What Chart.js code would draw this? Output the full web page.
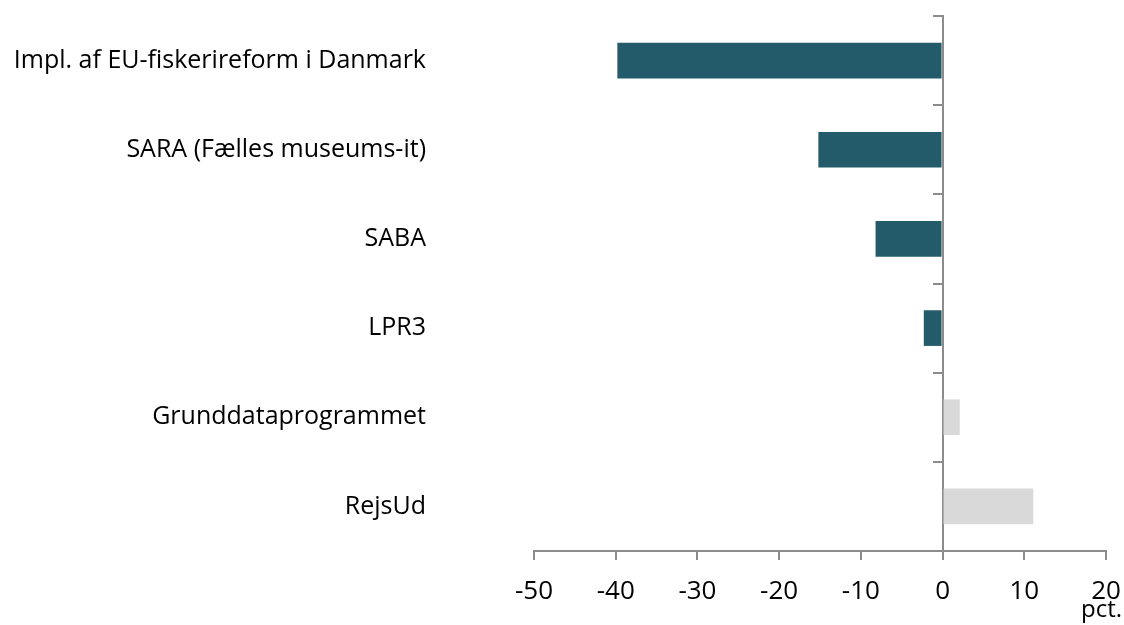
<!DOCTYPE html>
<html>
<head>
<meta charset="utf-8">
<script src="https://cdn.jsdelivr.net/npm/chart.js@4"></script>
<style>
  html, body { margin: 0; padding: 0; background: #fff; }
  #wrap { width: 1124px; height: 625px; }
</style>
</head>
<body>
<div id="wrap"><canvas id="chart"></canvas></div>
<script>
var categories = [
  'Impl. af EU-fiskerireform i Danmark',
  'SARA (Fælles museums-it)',
  'SABA',
  'LPR3',
  'Grunddataprogrammet',
  'RejsUd'
];
var values = [-39.8, -15.2, -8.2, -2.3, 2.1, 11.1];
var xTicks = [-50, -40, -30, -20, -10, 0, 10, 20];
var unitLabel = 'pct.';

var axisColor = '#8c8c8c';
var fontFamily = '"Open Sans", "Noto Sans", sans-serif';

// unit text under the right end of the x axis
var unitPlugin = {
  id: 'unitLabel',
  afterDraw: function (chart) {
    var ctx = chart.ctx;
    ctx.save();
    ctx.font = '24px ' + fontFamily;
    ctx.fillStyle = '#000';
    ctx.textAlign = 'right';
    ctx.textBaseline = 'alphabetic';
    ctx.fillText(unitLabel, chart.width - 2, 617);
    ctx.restore();
  }
};

function loadChart() {
  var ctx = document.getElementById('chart').getContext('2d');
  new Chart(ctx, {
    type: 'bar',
    data: {
      labels: categories,
      datasets: [{
        data: values,
        backgroundColor: function (c) {
          return c.raw < 0 ? '#235b6a' : '#d9d9d9';
        },
        barPercentage: 0.4,
        categoryPercentage: 1,
        yAxisID: 'y'
      }]
    },
    options: {
      indexAxis: 'y',
      responsive: true,
      maintainAspectRatio: false,
      animation: false,
      layout: { padding: { left: 0, right: 0, top: 16, bottom: 0 } },
      plugins: {
        legend: { display: false },
        tooltip: { enabled: false }
      },
      scales: {
        x: {
          type: 'linear',
          min: -50,
          max: 20,
          afterBuildTicks: function (scale) {
            scale.ticks = xTicks.map(function (v) { return { value: v }; });
          },
          afterFit: function (scale) {
            scale.height = 74;
            scale.paddingRight = 18;
          },
          grid: {
            drawOnChartArea: false,
            drawTicks: true,
            tickLength: 9,
            color: axisColor,
            lineWidth: 2
          },
          border: { display: true, color: axisColor, width: 2 },
          ticks: {
            color: '#000',
            padding: 16,
            font: { family: fontFamily, size: 26 }
          }
        },
        y: {
          position: 'left',
          offset: true,
          afterFit: function (scale) { scale.width = 534; },
          // invisible long ticks push the labels away from the plot
          grid: {
            display: true,
            drawOnChartArea: false,
            drawTicks: true,
            tickLength: 108,
            color: 'rgba(0,0,0,0)'
          },
          border: { display: false },
          ticks: {
            color: '#000',
            padding: 0,
            font: { family: fontFamily, size: 25 }
          }
        },
        y2: {
          type: 'category',
          labels: categories,
          position: { x: 0 },
          offset: true,
          grid: {
            offset: true,
            drawOnChartArea: false,
            drawTicks: true,
            tickLength: 9,
            color: axisColor,
            lineWidth: 2
          },
          border: { display: true, color: axisColor, width: 2 },
          ticks: { display: false }
        }
      }
    },
    plugins: [unitPlugin]
  });
}

window.addEventListener('load', loadChart, false);
</script>
</body>
</html>
